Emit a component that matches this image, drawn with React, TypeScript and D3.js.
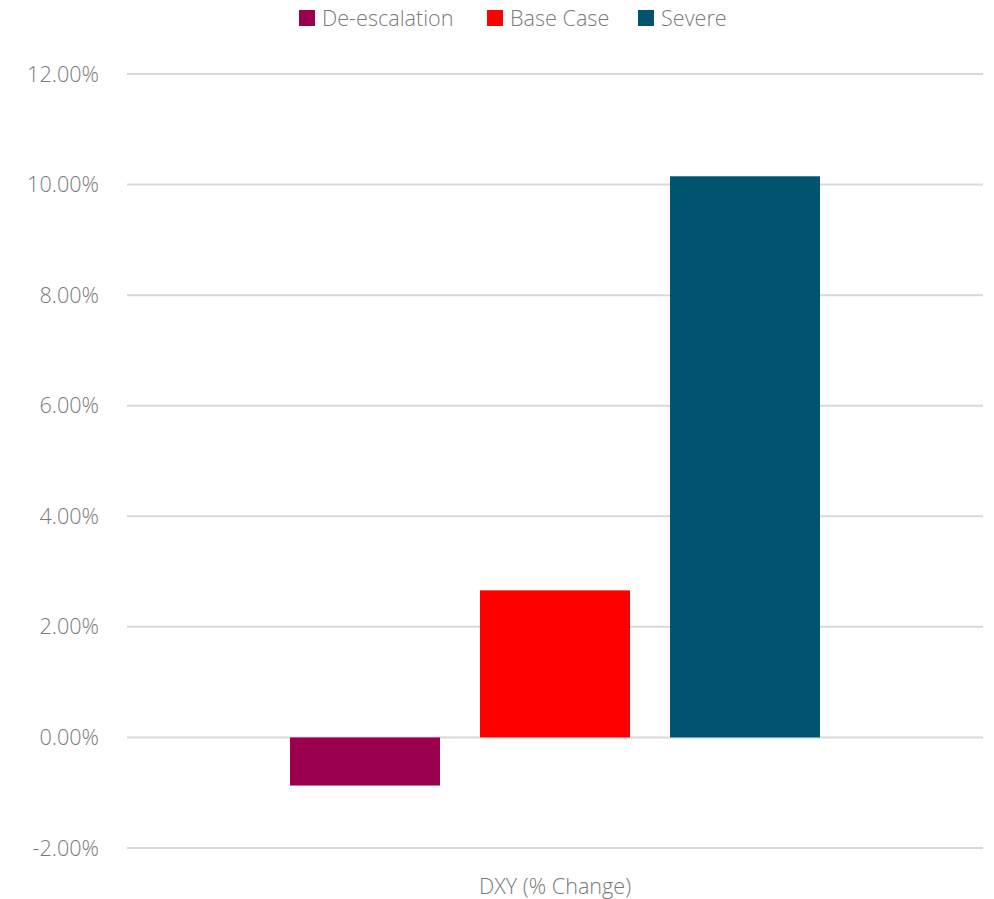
import React from "react";
import * as d3 from "d3";

const categories = ["DXY (% Change)"];
const seriesNames = ["De-escalation", "Base Case", "Severe"];
const seriesColors = ["#9B004F", "#FF0000", "#00546F"];
const seriesValues = [-0.87, 2.66, 10.15];
const yTicks = [-2, 0, 2, 4, 6, 8, 10, 12];

const W = 994;
const H = 899;
const M = { left: 127, right: 11, top: 74, bottom: 51 };

export default function App() {
  const x = d3.scaleBand().domain(categories).range([M.left, W - M.right]);
  const y = d3.scaleLinear().domain([-2, 12]).range([H - M.bottom, M.top]);
  const barW = 150;
  const gap = 40;
  const groupW = seriesNames.length * barW + (seriesNames.length - 1) * gap;
  const xs = d3
    .scaleBand()
    .domain(seriesNames)
    .range([0, groupW])
    .paddingInner(gap / (barW + gap));
  const font = "'Open Sans', 'Noto Sans', sans-serif";
  const textColor = "#7a7a7a";
  const fs = 21.6;
  const legendItems = [
    { x: 299, tx: 322 },
    { x: 487, tx: 510 },
    { x: 638, tx: 661 },
  ];
  const fmt = (t: number) => t.toFixed(2) + "%";
  return (
    <svg width={W} height={H} style={{ position: "absolute", left: 0, top: 0 }} fontFamily={font} fontWeight={300}>
      <rect width={W} height={H} fill="#ffffff" />
      {yTicks.map((t) => (
        <g key={t}>
          <line x1={M.left} x2={W - M.right} y1={y(t)} y2={y(t)} stroke="#d9d9d9" strokeWidth={2} />
          <text x={99} y={y(t)} dy="0.35em" textAnchor="end" fontSize={fs} fill={textColor}>
            {fmt(t)}
          </text>
        </g>
      ))}
      {categories.map((c) => {
        const x0 = (x(c) as number) + (x.bandwidth() - groupW) / 2;
        return (
          <g key={c}>
            {seriesNames.map((s, i) => {
              const v = seriesValues[i];
              const y0 = y(Math.max(0, v));
              const y1 = y(Math.min(0, v));
              return (
                <rect
                  key={s}
                  x={x0 + (xs(s) as number)}
                  y={y0}
                  width={xs.bandwidth()}
                  height={y1 - y0}
                  fill={seriesColors[i]}
                />
              );
            })}
            <text
              x={(x(c) as number) + x.bandwidth() / 2}
              y={886}
              dy="0.35em"
              textAnchor="middle"
              fontSize={fs}
              fill={textColor}
            >
              {c}
            </text>
          </g>
        );
      })}
      {seriesNames.map((s, i) => (
        <g key={s}>
          <rect x={legendItems[i].x} y={10} width={16} height={16} fill={seriesColors[i]} />
          <text x={legendItems[i].tx} y={18} dy="0.35em" fontSize={fs} fill={textColor}>
            {s}
          </text>
        </g>
      ))}
    </svg>
  );
}
